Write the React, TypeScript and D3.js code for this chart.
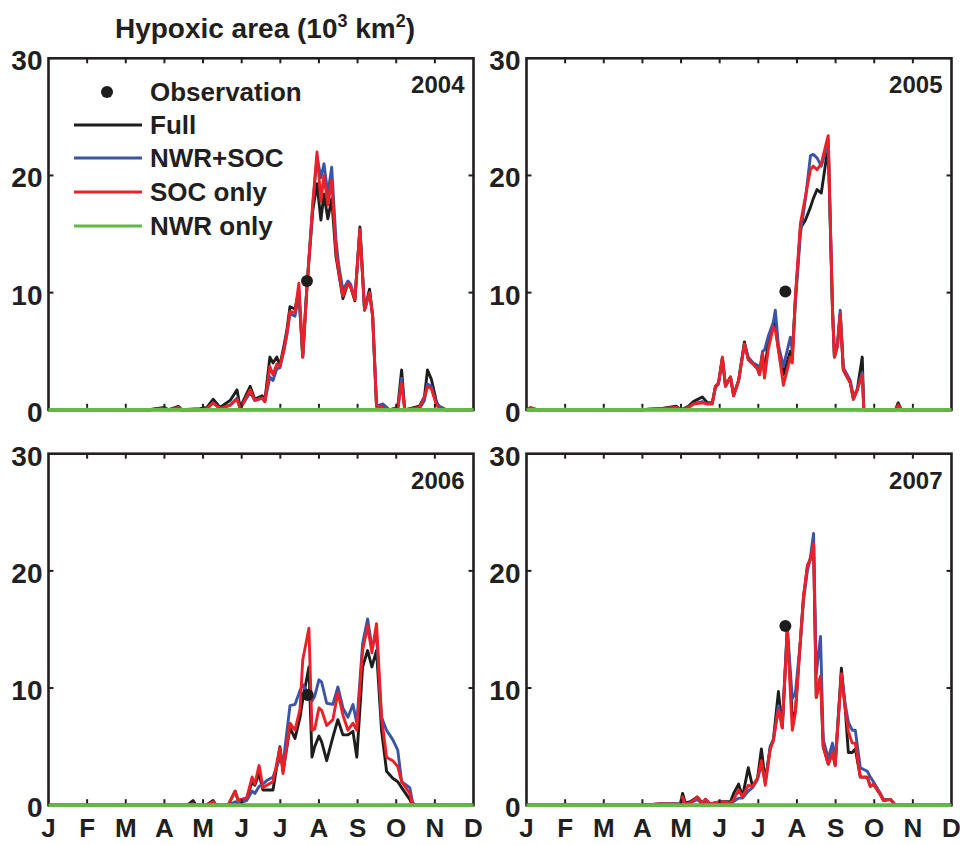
import React from 'react';
import * as d3 from 'd3';

// month labels along x (evenly spaced ticks, J..D)
const months = ['J', 'F', 'M', 'A', 'M', 'J', 'J', 'A', 'S', 'O', 'N', 'D'];
const yTicks = [0, 10, 20, 30];
const years = [2004, 2005, 2006, 2007];

const seriesNames = ['Full', 'NWR+SOC', 'SOC only', 'NWR only'];
const seriesColors = ['#1d1d1b', '#3a55a6', '#ec2027', '#63b846'];

// 2004
const t2004 = [0, 2.6, 3.0, 3.1, 3.36, 3.45, 3.92, 4.1, 4.26, 4.44, 4.7, 4.88, 4.96, 5.22, 5.34, 5.53, 5.6, 5.73, 5.81, 5.91, 5.99, 6.09, 6.17, 6.25, 6.38, 6.48, 6.58, 6.69, 6.84, 6.95, 7.05, 7.13, 7.23, 7.33, 7.44, 7.51, 7.62, 7.75, 7.82, 7.93, 8.06, 8.18, 8.31, 8.39, 8.49, 8.65, 8.83, 9.04, 9.14, 9.22, 9.6, 9.73, 9.81, 9.91, 10.04, 10.12, 10.3, 11];
const full2004 = [0, 0, 0.2, 0, 0.3, 0, 0.1, 0.2, 0.9, 0.2, 0.8, 1.7, 0.2, 2.0, 0.9, 1.2, 0.8, 4.5, 4.0, 4.5, 3.8, 5.4, 6.8, 8.8, 8.6, 10.2, 4.5, 10.6, 17.0, 19.3, 16.2, 18.4, 16.3, 18.0, 13.1, 11.7, 9.5, 10.8, 10.5, 9.3, 15.6, 8.5, 10.3, 8.0, 0.3, 0.2, 0, 0.2, 3.4, 0, 0.3, 1.1, 3.4, 2.6, 0.7, 0.1, 0, 0];
const nwrSoc2004 = [0, 0, 0.1, 0, 0.2, 0, 0, 0.1, 0.6, 0.1, 0.4, 1.0, 0.1, 1.5, 0.8, 1.0, 0.7, 2.8, 2.5, 3.5, 3.6, 5.0, 6.4, 8.2, 8.0, 9.8, 4.6, 10.6, 17.5, 21.6, 19.8, 21.0, 18.4, 20.7, 14.5, 12.4, 10.2, 11.0, 10.7, 9.5, 15.4, 8.6, 10.0, 8.0, 0.3, 0.5, 0, 0.1, 2.7, 0, 0.1, 0.8, 2.2, 2.0, 0.6, 0.3, 0, 0];
const soc2004 = [0, 0, 0.1, 0, 0.2, 0, 0, 0.1, 0.6, 0.1, 0.4, 0.9, 0.1, 1.7, 0.8, 1.0, 0.7, 3.7, 3.0, 3.9, 3.7, 5.1, 6.5, 8.4, 8.3, 10.8, 4.5, 10.4, 17.6, 22.0, 17.8, 20.0, 17.5, 19.6, 13.5, 11.8, 9.7, 10.8, 10.5, 9.4, 15.4, 8.5, 10.0, 8.0, 0.3, 0.2, 0, 0.1, 2.3, 0, 0.2, 1.1, 2.0, 1.8, 0.4, 0.1, 0, 0];

// 2005
const t2005 = [0, 0.1, 0.3, 2.95, 3.47, 3.88, 4.0, 4.19, 4.32, 4.55, 4.68, 4.81, 4.89, 4.97, 5.07, 5.15, 5.28, 5.36, 5.49, 5.64, 5.74, 5.87, 5.98, 6.03, 6.11, 6.16, 6.26, 6.39, 6.44, 6.52, 6.65, 6.83, 6.88, 6.96, 7.09, 7.22, 7.35, 7.42, 7.52, 7.63, 7.74, 7.81, 7.92, 7.97, 8.05, 8.12, 8.2, 8.38, 8.46, 8.56, 8.69, 8.73, 9.55, 9.62, 9.7, 11];
const full2005 = [0, 0, 0, 0, 0.1, 0.3, 0, 0.3, 0.7, 1.1, 0.6, 0.6, 2.0, 2.3, 4.4, 2.0, 2.8, 1.2, 2.5, 5.8, 4.3, 3.9, 3.5, 3.0, 4.8, 3.0, 6.0, 7.0, 7.5, 5.2, 3.0, 5.0, 4.5, 9.5, 15.5, 16.2, 17.3, 18.0, 18.8, 18.5, 21.0, 22.5, 8.5, 4.5, 5.5, 8.2, 3.4, 2.3, 0.9, 1.7, 4.5, 0, 0, 0.6, 0, 0];
const nwrSoc2005 = [0, 0, 0, 0, 0.1, 0.2, 0, 0.2, 0.5, 0.7, 0.5, 0.6, 1.9, 2.2, 4.4, 2.1, 2.8, 1.3, 2.5, 5.6, 4.5, 4.0, 3.8, 3.2, 5.0, 5.1, 6.3, 7.5, 8.5, 5.5, 3.7, 6.2, 5.0, 9.2, 15.0, 18.0, 21.7, 21.8, 21.5, 20.8, 22.0, 22.7, 8.6, 4.6, 5.8, 8.5, 3.6, 2.5, 1.2, 1.7, 3.2, 0, 0, 0.3, 0, 0];
const soc2005 = [0, 0.2, 0, 0, 0.1, 0.2, 0, 0.2, 0.5, 0.6, 0.5, 0.5, 2.0, 2.3, 4.5, 2.0, 2.8, 1.2, 2.5, 5.6, 4.3, 3.9, 3.5, 3.0, 4.8, 2.7, 5.2, 7.1, 6.8, 5.1, 2.1, 4.5, 4.0, 9.7, 15.9, 18.2, 20.5, 20.8, 20.5, 21.0, 22.5, 23.4, 8.5, 4.5, 5.5, 8.2, 3.4, 2.3, 0.9, 1.7, 3.0, 0, 0, 0.4, 0, 0];

// 2006
const t2006 = [0, 3.6, 3.74, 3.82, 4.08, 4.26, 4.34, 4.65, 4.83, 4.91, 5.13, 5.27, 5.34, 5.45, 5.55, 5.65, 5.81, 5.99, 6.07, 6.25, 6.38, 6.51, 6.58, 6.74, 6.82, 6.89, 7.0, 7.07, 7.2, 7.36, 7.49, 7.62, 7.75, 7.88, 7.98, 8.13, 8.26, 8.37, 8.49, 8.62, 8.75, 8.91, 9.04, 9.14, 9.35, 9.42, 9.48, 11];
const full2006 = [0, 0, 0.4, 0, 0, 0.4, 0, 0, 1.2, 0.4, 0.6, 2.0, 1.7, 2.7, 1.3, 1.3, 1.3, 5.0, 2.9, 6.6, 5.7, 7.5, 9.0, 11.8, 4.1, 5.0, 5.9, 5.4, 3.8, 5.8, 7.3, 6.0, 6.0, 6.3, 4.1, 11.8, 13.2, 11.8, 13.2, 6.4, 2.9, 2.3, 2.0, 1.5, 0.5, 0, 0, 0];
const nwrSoc2006 = [0, 0, 0.1, 0, 0, 0.1, 0, 0, 0.3, 0.1, 0.4, 1.2, 1.0, 1.6, 1.8, 2.1, 2.4, 4.0, 3.5, 8.5, 8.6, 9.8, 10.3, 9.5, 8.9, 9.3, 10.7, 10.5, 8.7, 8.6, 10.1, 8.3, 7.5, 8.6, 7.0, 13.8, 15.9, 13.5, 14.5, 7.5, 6.4, 5.6, 4.7, 2.0, 1.5, 0.3, 0, 0];
const soc2006 = [0, 0, 0.1, 0, 0, 0.3, 0, 0, 1.2, 0.4, 0.6, 2.4, 1.8, 3.4, 1.5, 1.7, 2.0, 4.9, 2.7, 7.0, 6.4, 8.2, 12.4, 15.1, 6.4, 6.5, 8.3, 8.1, 6.8, 7.3, 9.6, 7.7, 6.4, 7.0, 6.4, 13.2, 15.3, 13.0, 15.5, 7.5, 4.1, 3.8, 3.3, 2.0, 1.0, 0, 0, 0];

// 2007
const t2007 = [0, 2.95, 3.47, 3.86, 3.98, 4.04, 4.11, 4.24, 4.42, 4.55, 4.63, 4.76, 5.02, 5.28, 5.36, 5.49, 5.59, 5.74, 5.85, 5.98, 6.08, 6.18, 6.31, 6.39, 6.52, 6.62, 6.75, 6.88, 6.96, 7.09, 7.17, 7.27, 7.35, 7.43, 7.5, 7.61, 7.68, 7.81, 7.92, 7.99, 8.15, 8.25, 8.33, 8.43, 8.51, 8.64, 8.82, 8.9, 8.98, 9.16, 9.24, 9.42, 9.55, 11];
const full2007 = [0, 0, 0.1, 0.1, 0.1, 1.0, 0.2, 0.3, 0.7, 0.2, 0.5, 0.1, 0.3, 0.3, 1.0, 1.8, 0.7, 3.2, 1.6, 2.3, 4.8, 2.0, 5.0, 5.6, 9.7, 6.6, 15.0, 7.5, 8.0, 14.1, 17.8, 20.3, 21.0, 22.0, 9.2, 11.0, 5.0, 3.5, 4.5, 3.4, 11.7, 8.2, 4.5, 4.5, 4.8, 2.4, 2.4, 1.6, 1.8, 0.9, 0.4, 0.5, 0, 0];
const nwrSoc2007 = [0, 0, 0.1, 0.1, 0.1, 0.3, 0.1, 0.2, 0.5, 0.1, 0.3, 0.1, 0.3, 0.1, 0.3, 0.6, 0.6, 1.2, 1.5, 2.2, 3.5, 2.0, 5.0, 5.6, 8.5, 6.8, 15.2, 9.1, 9.6, 14.0, 17.5, 20.0, 21.2, 23.2, 11.2, 14.4, 5.6, 4.0, 5.3, 3.8, 11.2, 8.6, 7.1, 6.4, 6.4, 3.2, 2.9, 2.4, 2.0, 1.0, 0.5, 0.5, 0, 0];
const soc2007 = [0, 0, 0.1, 0.1, 0, 0.7, 0.1, 0.2, 0.7, 0.1, 0.5, 0.1, 0.3, 0.2, 0.5, 1.3, 0.7, 1.7, 1.6, 2.3, 3.8, 1.7, 4.8, 5.5, 8.2, 6.6, 14.8, 6.4, 7.9, 14.1, 17.8, 20.5, 21.0, 22.3, 9.2, 11.0, 5.0, 3.5, 4.5, 3.4, 11.2, 8.2, 6.3, 5.3, 5.3, 2.4, 2.4, 1.6, 1.8, 0.9, 0.4, 0.5, 0, 0];

// NWR only stays at zero all year
const nwrOnlyT = [0, 11];
const nwrOnlyValues = [0, 0];

// observations (month, 10^3 km^2)
const obsMonth = [6.69, 6.7, 6.71, 6.7];
const obsValue = [11.0, 10.1, 9.4, 15.3];

const times = [t2004, t2005, t2006, t2007];
const fullSeries = [full2004, full2005, full2006, full2007];
const nwrSocSeries = [nwrSoc2004, nwrSoc2005, nwrSoc2006, nwrSoc2007];
const socSeries = [soc2004, soc2005, soc2006, soc2007];

const FONT = '"Liberation Sans", Arial, Helvetica, sans-serif';
const AXIS = '#231f20';

// panel frames
const panelLeft = [48.5, 526.5, 48.5, 526.5];
const panelTop = [58.3, 58.3, 453.7, 453.7];
const panelW = 425;
const panelH = 351.5;

const Panel = ({ idx }: { idx: number }) => {
  const left = panelLeft[idx];
  const top = panelTop[idx];
  const x = d3.scaleLinear().domain([0, 11]).range([left, left + panelW]);
  const y = d3.scaleLinear().domain([0, 30]).range([top + panelH, top]);

  const mkLine = (t: number[]) =>
    d3
      .line<number>()
      .x((_, i) => x(t[i]))
      .y((d) => y(d));

  const t = times[idx];
  const lines = [
    { t, v: fullSeries[idx] },
    { t, v: nwrSocSeries[idx] },
    { t, v: socSeries[idx] },
    { t: nwrOnlyT, v: nwrOnlyValues },
  ];

  const bottomRow = idx >= 2;

  return (
    <g>
      {lines.map((l, i) => (
        <path
          key={i}
          d={mkLine(l.t)(l.v) || ''}
          fill="none"
          stroke={seriesColors[i]}
          strokeWidth={i === 3 ? 3.5 : 2.9}
          strokeLinejoin="round"
        />
      ))}
      <circle cx={x(obsMonth[idx])} cy={y(obsValue[idx])} r={6} fill="#1d1d1b" />

      <rect x={left} y={top} width={panelW} height={panelH} fill="none" stroke={AXIS} strokeWidth={2.6} />
      {/* green zero line sits over the bottom edge */}
      <line x1={left} x2={left + panelW} y1={y(0)} y2={y(0)} stroke={seriesColors[3]} strokeWidth={3.5} />

      {d3.range(1, 11).map((m) => (
        <g key={m}>
          <line x1={x(m)} x2={x(m)} y1={y(30)} y2={y(30) + 5} stroke={AXIS} strokeWidth={2} />
          <line x1={x(m)} x2={x(m)} y1={y(0) - 2} y2={y(0) - 6} stroke={AXIS} strokeWidth={2} />
        </g>
      ))}
      {[10, 20].map((v) => (
        <g key={v}>
          <line x1={left} x2={left + 5} y1={y(v)} y2={y(v)} stroke={AXIS} strokeWidth={2} />
          <line x1={left + panelW - 5} x2={left + panelW} y1={y(v)} y2={y(v)} stroke={AXIS} strokeWidth={2} />
        </g>
      ))}

      {yTicks.map((v) => (
        <text
          key={v}
          x={left - 6}
          y={y(v) + 12}
          textAnchor="end"
          fontSize={28}
          fontWeight="bold"
          fill={AXIS}
        >
          {v}
        </text>
      ))}

      {bottomRow &&
        months.map((m, i) => (
          <text
            key={i}
            x={x(i)}
            y={837}
            textAnchor="middle"
            fontSize={26}
            fontWeight="bold"
            fill={AXIS}
          >
            {m}
          </text>
        ))}

      <text
        x={left + panelW - 9}
        y={top + 35}
        textAnchor="end"
        fontSize={24}
        fontWeight="bold"
        fill={AXIS}
      >
        {years[idx]}
      </text>
    </g>
  );
};

const Legend = () => {
  const rowY = [92, 125, 158, 192, 226];
  return (
    <g fontSize={26} fontWeight="bold" fill={AXIS}>
      <circle cx={107} cy={rowY[0]} r={6} fill="#1d1d1b" />
      <text x={150} y={rowY[0] + 9}>Observation</text>
      {seriesNames.map((n, i) => (
        <g key={n}>
          <line x1={74} x2={142} y1={rowY[i + 1]} y2={rowY[i + 1]} stroke={seriesColors[i]} strokeWidth={2.9} />
          <text x={150} y={rowY[i + 1] + 9}>{n}</text>
        </g>
      ))}
    </g>
  );
};

export default function App() {
  return (
    <svg
      width={960}
      height={845}
      style={{ position: 'absolute', left: 0, top: 0, background: '#fff' }}
      fontFamily={FONT}
    >
      <text x={265} y={38} textAnchor="middle" fontSize={28} fontWeight="bold" fill={AXIS}>
        Hypoxic area (10
        <tspan dy={-11} fontSize={18}>3</tspan>
        <tspan dy={11}> km</tspan>
        <tspan dy={-11} fontSize={18}>2</tspan>
        <tspan dy={11}>)</tspan>
      </text>
      {years.map((yr, i) => (
        <Panel key={yr} idx={i} />
      ))}
      <Legend />
    </svg>
  );
}
